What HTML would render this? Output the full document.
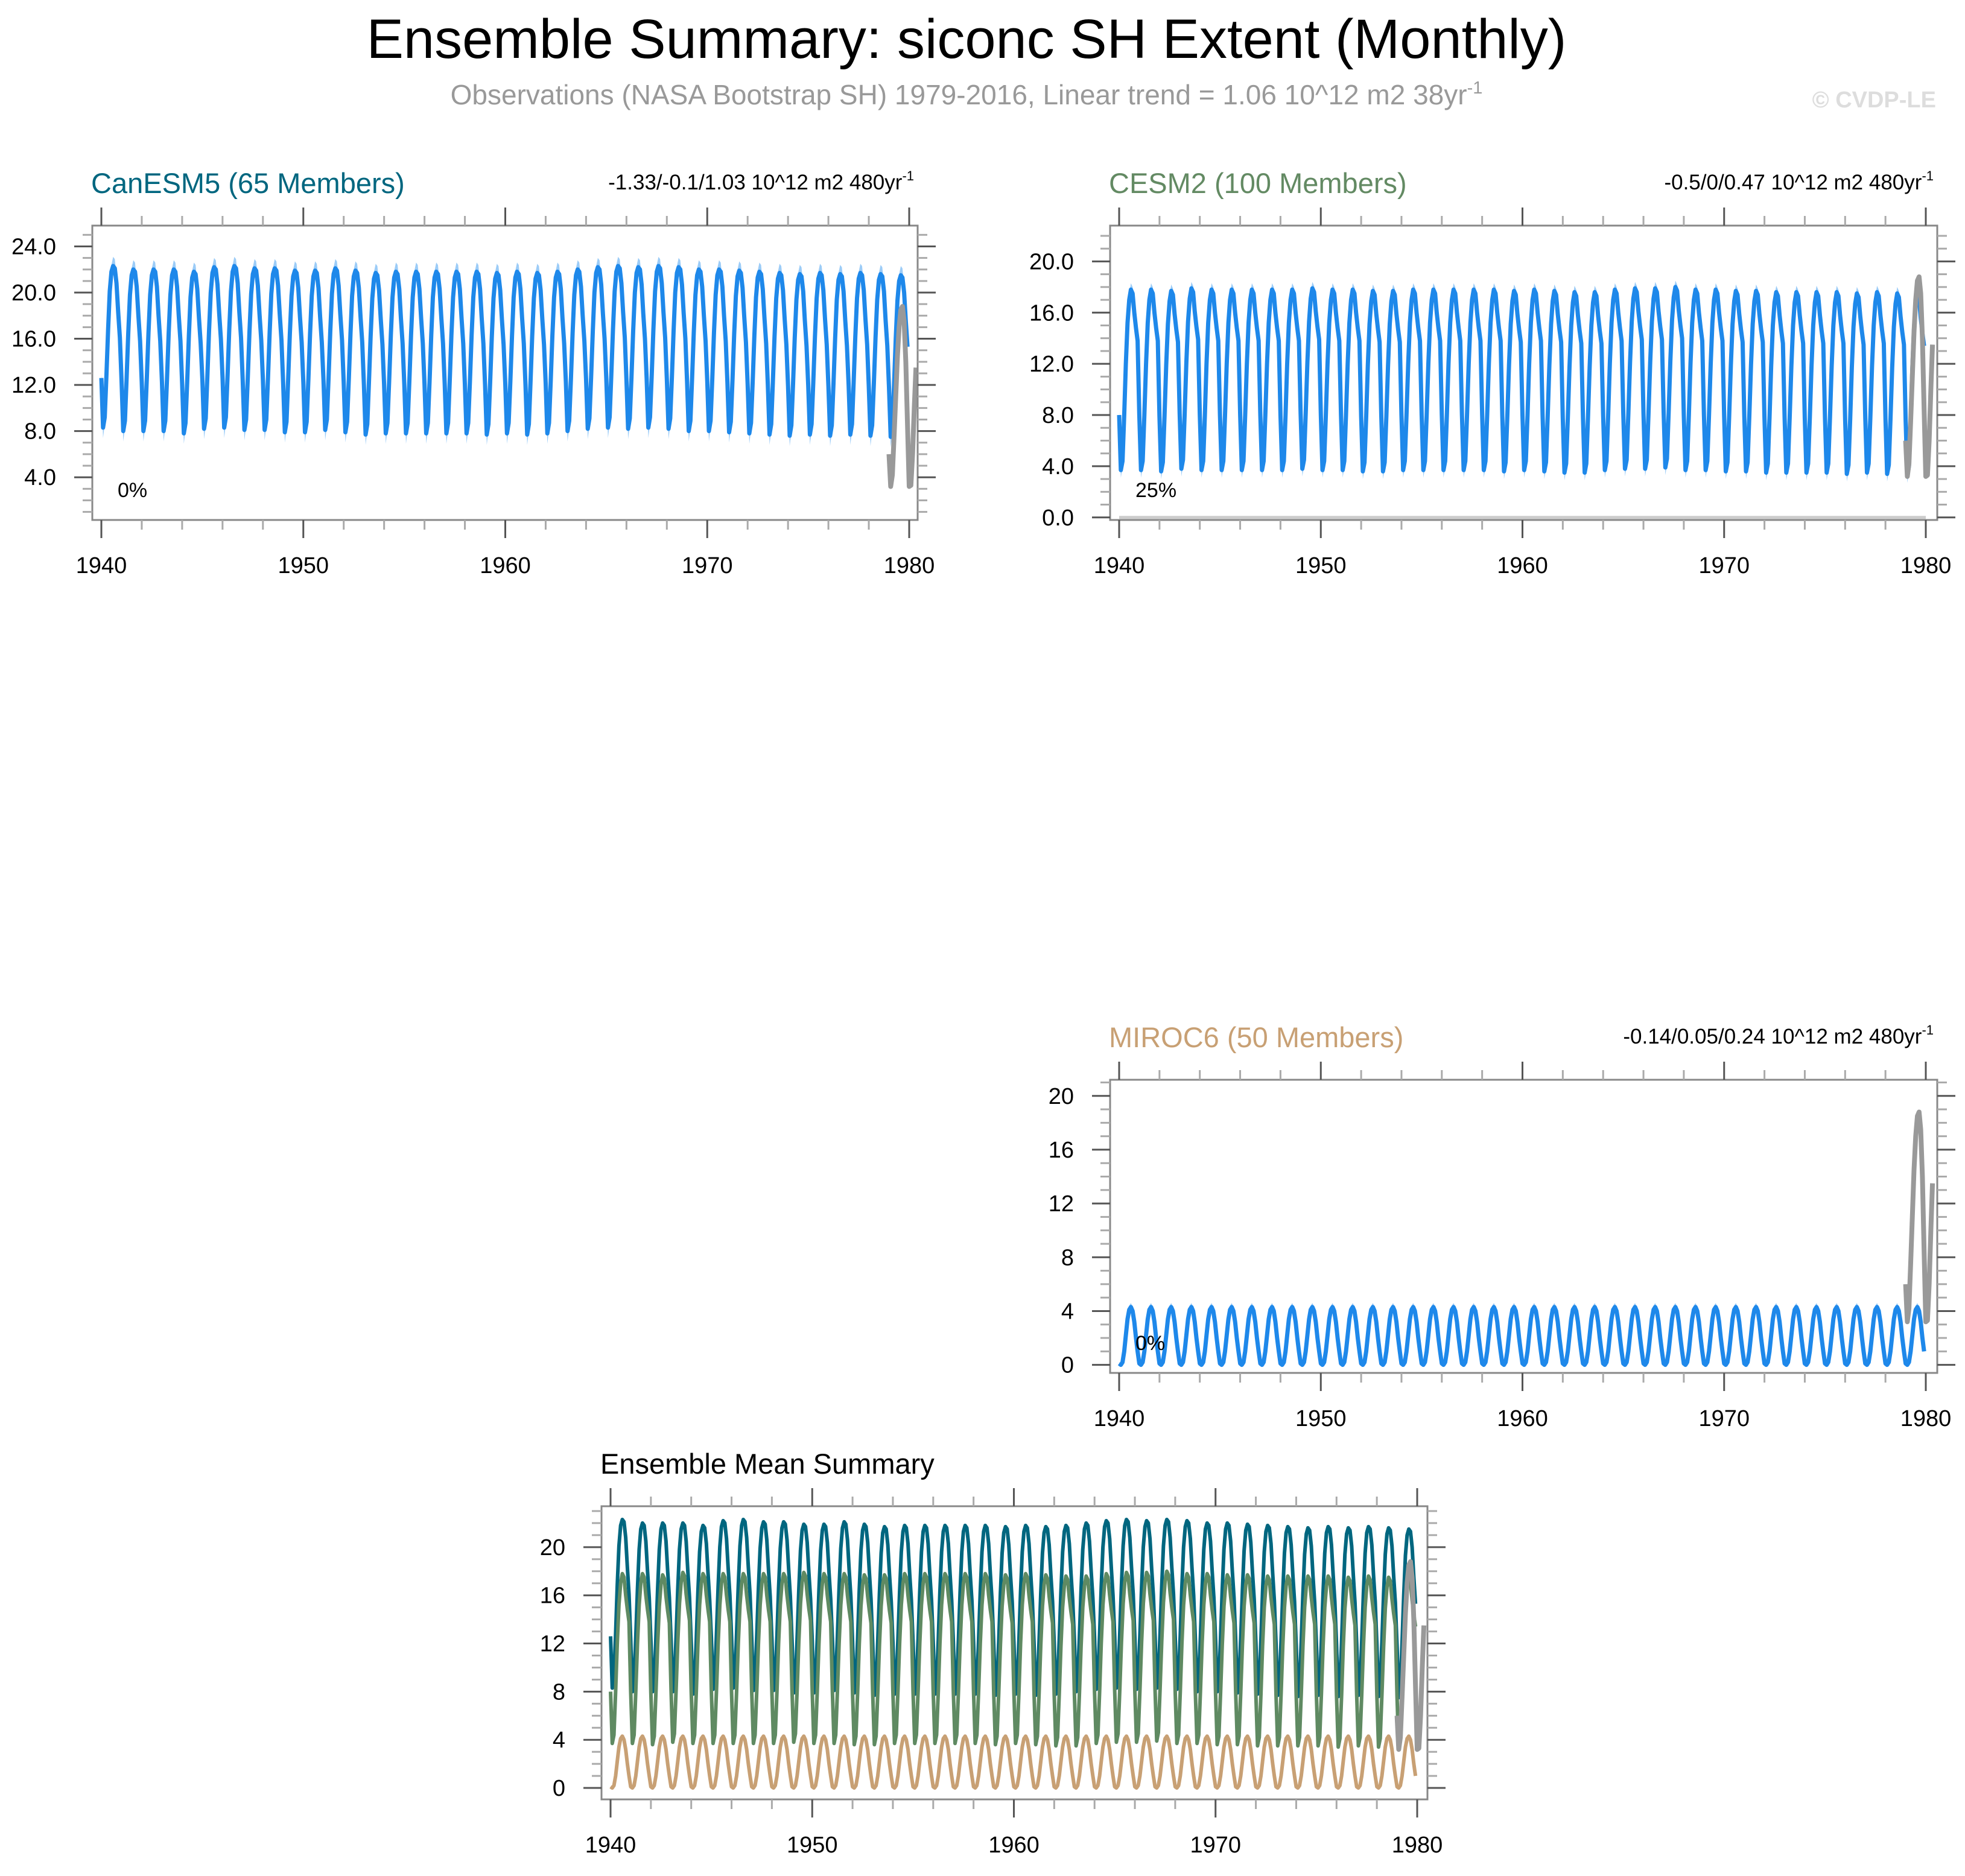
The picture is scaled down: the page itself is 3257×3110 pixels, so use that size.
<!DOCTYPE html>
<html><head><meta charset="utf-8"><style>
html,body{margin:0;padding:0;background:#fff;}
svg{display:block;font-family:"Liberation Sans",Arial,sans-serif;}
</style></head><body>
<svg id="chart" width="3257" height="3110" viewBox="0 0 3257 3110" xmlns="http://www.w3.org/2000/svg">
<text x="1602" y="96" font-size="92" text-anchor="middle" fill="#000">Ensemble Summary: siconc SH Extent (Monthly)</text>
<text x="1602" y="173" font-size="46" text-anchor="middle" fill="#999">Observations (NASA Bootstrap SH) 1979-2016, Linear trend = 1.06 10^12 m2 38yr<tspan font-size="29" dy="-18">-1</tspan></text>
<text x="3209" y="178" font-size="38" font-weight="bold" text-anchor="end" fill="#ddd">© CVDP-LE</text>
</svg>
<script>
// ---- data ----
const years = [1940,1941,1942,1943,1944,1945,1946,1947,1948,1949,1950,1951,1952,1953,1954,1955,1956,1957,1958,1959,1960,1961,1962,1963,1964,1965,1966,1967,1968,1969,1970,1971,1972,1973,1974,1975,1976,1977,1978,1979];
const canClim = [12.3,8.0,8.9,12.5,16.5,19.8,21.5,22.0,21.8,20.5,18.0,15.8];
const canSpread = [0.4,0.9,0.6,0.5,0.5,0.5,0.6,0.8,0.8,0.6,0.5,0.4];
const canOffset = [0.3,0.0,0.0,0.0,-0.2,0.2,0.3,0.1,0.1,-0.1,-0.1,0.1,-0.1,-0.3,-0.2,-0.2,-0.2,-0.2,-0.2,-0.3,-0.2,-0.3,-0.2,0.0,0.2,0.3,0.2,0.3,0.2,0.0,0.0,-0.1,-0.2,-0.3,-0.4,-0.3,-0.4,-0.3,-0.4,-0.5];
const cesmClim = [8.0,3.7,4.4,8.0,12.0,15.2,17.0,17.8,17.5,16.0,14.8,13.8];
const cesmSpread = [0.3,0.6,0.5,0.4,0.4,0.4,0.5,0.5,0.5,0.4,0.3,0.3];
const cesmOffset = [0.0,0.0,-0.1,0.1,0.0,0.0,0.0,0.0,0.0,0.1,0.0,0.0,-0.1,-0.1,0.0,0.0,0.0,0.0,0.0,-0.1,0.0,-0.1,-0.2,-0.2,0.0,0.1,0.1,0.2,0.0,0.0,-0.1,-0.1,-0.2,-0.2,-0.2,-0.2,-0.3,-0.2,-0.3,-0.4];
const mirocClim = [0.1,0.0,0.2,1.0,2.2,3.4,4.1,4.3,4.0,3.2,2.0,1.0];
const mirocSpread = [0.1,0.1,0.1,0.2,0.2,0.3,0.3,0.3,0.3,0.2,0.2,0.1];
const mirocOffset = [0,0,0,0,0,0,0,0,0,0,0,0,0,0,0,0,0,0,0,0,0,0,0,0,0,0,0,0,0,0,0,0,0,0,0,0,0,0,0,0];
const obsStart = 1979;
const obsValues = [6.0,3.2,4.2,7.5,11.0,14.5,17.0,18.5,18.8,17.5,14.0,8.5,3.2,3.3,6.0,10.0,13.5];
const xTickLabels = ["1940","1950","1960","1970","1980"];
const pctLabels = ["0%","25%","0%"];

const NS = "http://www.w3.org/2000/svg";
const svg = document.getElementById('chart');
function mk(tag, attrs, parent){const e=document.createElementNS(NS,tag);for(const k in attrs)e.setAttribute(k,attrs[k]);(parent||svg).appendChild(e);return e;}

function buildSeries(clim, offset){const out=[];years.forEach((y,i)=>{clim.forEach((v,m)=>{out.push([y+m/12, v+offset[i]]);});});return out;}

let clipId=0;
function panel(cfg){
  const g=mk('g',{});
  
  
  const L=cfg.L,R=cfg.R,T=cfg.T,B=cfg.B;
  const xs=t=>cfg.x0px+(t-1940)*(cfg.x1px-cfg.x0px)/40;
  const ys=v=>B-(v-cfg.ymin)*(B-T)/(cfg.ymax-cfg.ymin);
  clipId++;
  const cp=mk('clipPath',{id:'c'+clipId},g);mk('rect',{x:L,y:T,width:R-L,height:B-T},cp);
  const plot=mk('g',{'clip-path':'url(#c'+clipId+')'},g);
  if(cfg.zeroLine){const z=mk('line',{x1:xs(1940),x2:xs(1980),y1:ys(0),y2:ys(0),stroke:'#ccc','stroke-width':5},plot);
    }
  cfg.series.forEach(s=>{
    const pts=buildSeries(s.clim,s.offset);
    if(s.spread){
      const up=[],dn=[];
      pts.forEach((p,k)=>{const sp=s.spread[k%12];up.push(xs(p[0]).toFixed(1)+','+ys(p[1]+sp).toFixed(1));dn.unshift(xs(p[0]).toFixed(1)+','+ys(p[1]-sp).toFixed(1));});
      const band=mk('polygon',{points:up.concat(dn).join(' '),fill:'#9cccf7',stroke:'none'},plot);
      
    }
    const ln=mk('polyline',{points:pts.map(p=>xs(p[0]).toFixed(1)+','+ys(p[1]).toFixed(1)).join(' '),fill:'none',stroke:s.color,'stroke-width':cfg.lw,'stroke-linejoin':'round'},plot);
    
  });
  const op=obsValues.map((v,i)=>xs(obsStart+i/12).toFixed(1)+','+ys(v).toFixed(1)).join(' ');
  const ob=mk('polyline',{points:op,fill:'none',stroke:'#999','stroke-width':8,'stroke-linejoin':'round'},plot);
  
  const fr=mk('rect',{x:L,y:T,width:R-L,height:B-T,fill:'none',stroke:'#888','stroke-width':3},g);
  
  for(let yr=1940;yr<=1980;yr+=2){
    const x=xs(yr),maj=yr%10===0,len=maj?30:16,col=maj?'#555':'#aaa';
    mk('line',{x1:x,x2:x,y1:B,y2:B+len,stroke:col,'stroke-width':3},g);
    mk('line',{x1:x,x2:x,y1:T,y2:T-len,stroke:col,'stroke-width':3},g);
  }
  xTickLabels.forEach((lab,i)=>{
    const t=mk('text',{x:xs(1940+10*i),y:B+88,'font-size':38,'text-anchor':'middle',fill:'#000'},g);t.textContent=lab;
    
  });
  for(let v=Math.ceil(cfg.ymin);v<=cfg.ymax;v+=1){
    const y=ys(v),maj=v%4===0,len=maj?30:16,col=maj?'#555':'#aaa';
    mk('line',{x1:L,x2:L-len,y1:y,y2:y,stroke:col,'stroke-width':3},g);
    mk('line',{x1:R,x2:R+len,y1:y,y2:y,stroke:col,'stroke-width':3},g);
    if(maj && (v>0 || cfg.showZero)){
      const t=mk('text',{x:L-60,y:y+13,'font-size':38,'text-anchor':'end',fill:'#000'},g);t.textContent=cfg.dec?v.toFixed(1):String(v);
      
    }
  }
  const tt=mk('text',{x:L-2,y:T-54,'font-size':47,fill:cfg.titleColor},g);tt.textContent=cfg.title;
  
  if(cfg.trend){const tr=mk('text',{x:R-6,y:T-60,'font-size':35,'text-anchor':'end',fill:'#000'},g);tr.textContent=cfg.trend;
    const sup=mk('tspan',{'font-size':22,dy:-15},tr);sup.textContent='-1';
    }
  if(cfg.pct!==undefined){const p=mk('text',{x:L+42,y:B-38,'font-size':34,fill:'#000'},g);p.textContent=cfg.pct;
    }
}

panel({name:'canesm5-panel',L:153,R:1521,T:374,B:862,x0px:168,x1px:1507,ymin:0.3,ymax:25.8,dec:true,lw:7,
  title:'CanESM5 (65 Members)',titleColor:'#00667f',trend:'-1.33/-0.1/1.03 10^12 m2 480yr',pct:pctLabels[0],
  series:[{key:'canesm5',clim:canClim,offset:canOffset,spread:canSpread,color:'#1e88ea'}]});
panel({name:'cesm2-panel',L:1840,R:3211,T:374,B:862,x0px:1855,x1px:3192,ymin:-0.2,ymax:22.8,dec:true,showZero:true,zeroLine:true,lw:7,
  title:'CESM2 (100 Members)',titleColor:'#638a63',trend:'-0.5/0/0.47 10^12 m2 480yr',pct:pctLabels[1],
  series:[{key:'cesm2',clim:cesmClim,offset:cesmOffset,spread:cesmSpread,color:'#1e88ea'}]});
panel({name:'miroc6-panel',L:1840,R:3211,T:1790,B:2276,x0px:1855,x1px:3192,ymin:-0.6,ymax:21.2,dec:false,showZero:true,lw:7,
  title:'MIROC6 (50 Members)',titleColor:'#c8a074',trend:'-0.14/0.05/0.24 10^12 m2 480yr',pct:pctLabels[2],
  series:[{key:'miroc6',clim:mirocClim,offset:mirocOffset,spread:mirocSpread,color:'#1e88ea'}]});
panel({name:'ensemble-mean-panel',L:997,R:2366,T:2497,B:2983,x0px:1012,x1px:2349,ymin:-0.95,ymax:23.4,dec:false,showZero:true,lw:6,
  title:'Ensemble Mean Summary',titleColor:'#000',
  series:[{key:'canesm5-mean',clim:canClim,offset:canOffset,color:'#00667f'},
          {key:'cesm2-mean',clim:cesmClim,offset:cesmOffset,color:'#5f8a62'},
          {key:'miroc6-mean',clim:mirocClim,offset:mirocOffset,color:'#c8a074'}]});
</script>
</body></html>
